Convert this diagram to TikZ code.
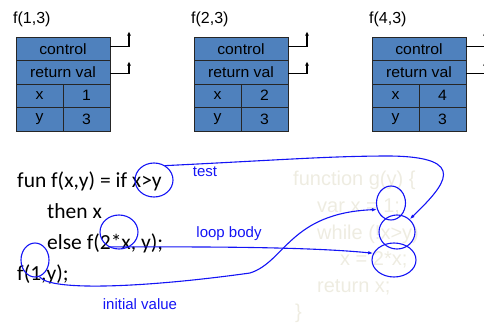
\documentclass[tikz,border=0pt]{standalone}
\usepackage{fontspec}
\setmainfont{Liberation Sans}
\newfontfamily\codefont{Carlito}
\newfontfamily\cellfont[FakeStretch=1.05]{Liberation Sans}
\usetikzlibrary{arrows.meta,shapes.geometric}
\definecolor{framefill}{RGB}{79,129,189}
\definecolor{penblue}{RGB}{20,20,245}
\definecolor{faint}{RGB}{238,236,225}

\tikzset{
  cell/.style={draw=black!85, line width=0.8pt, fill=framefill, minimum height=23.5pt,
    inner sep=0pt, outer sep=0pt, font=\cellfont\fontsize{15}{15}\selectfont, anchor=north west},
  wide/.style={cell, minimum width=94pt},
  half/.style={cell, minimum width=47pt},
  frametitle/.style={font=\fontsize{16}{16}\selectfont, anchor=base west, inner sep=0pt},
  link/.style={line width=1.3pt, -{Triangle[length=4pt,width=3.5pt]}},
  ring/.style={ellipse, draw=penblue, line width=1.1pt, inner sep=0pt},
  pen/.style={draw=penblue, line width=1.1pt, -{Latex[length=5pt,width=3.5pt]}},
  note/.style={text=penblue, font=\fontsize{15}{15}\selectfont, inner sep=0pt},
  code/.style={font=\codefont\fontsize{21.5}{25}\selectfont, anchor=base west, inner sep=0pt},
  ghost/.style={text=faint, font=\fontsize{20}{24}\selectfont, anchor=base west, inner sep=0pt},
}

% activation record: #1 name, #2 left edge, #3 title, #4 x value, #5 y value
\newcommand\actframe[5]{%
  \node[frametitle] (#1t) at (#2-3,24) {#3};
  \node[wide] (#1c) at (#2,37) {control};
  \node[wide] (#1r) at (#1c.south west) {return val};
  \node[half] (#1xk) at (#1r.south west) {x};
  \node[half] (#1xv) at (#1xk.north east) {#4};
  \node[half] (#1yk) at (#1xk.south west) {y};
  \node[half] (#1yv) at (#1yk.north east) {#5};
  \coordinate (#1cs) at ([yshift=2pt]#1c.east);
  \coordinate (#1ct) at ([shift={(19pt,17pt)}]#1c.east);
  \coordinate (#1rs) at ([yshift=-1.5pt]#1r.east);
  \coordinate (#1rt) at ([shift={(19pt,10.5pt)}]#1r.east);
  \draw[link] (#1cs) -| (#1ct);
  \draw[link] (#1rs) -| (#1rt);
}

\begin{document}
\begin{tikzpicture}[x=1pt,y=-1pt]
\useasboundingbox (0,0) rectangle (484,326);

% stack of activation records
\actframe{fa}{16}{f(1,3)}{1}{3}
\actframe{fb}{194}{f(2,3)}{2}{3}
\actframe{fc}{372}{f(4,3)}{4}{3}

% iterative version, faded
\node[ghost] (g1) at (293,185) {function g(y) \{};
\node[ghost] (g2) at (317,212) {var x = 1;};
\node[ghost] (g3) at (317,239) {while (!x>y)};
\node[ghost] (g4) at (340,265) {x = 2*x;};
\node[ghost] (g5) at (317,292) {return x;};
\node[ghost] (g6) at (295,318) {\}};

% recursive version
\node[code] (l1) at (17,187) {fun f(x,y) = if x>y};
\node[code] (l2) at (47,218) {then x};
\node[code] (l3) at (47,249) {else f(2*x, y);};
\node[code] (l4) at (17,280) {f(1,y);};

% circled pieces
\node[ring, minimum width=38pt, minimum height=34pt] (ctest) at (154,180) {};
\node[ring, minimum width=38pt, minimum height=34pt] (cstep) at (119,232) {};
\node[ring, minimum width=28pt, minimum height=34pt] (cinit) at (35,260) {};
\node[ring, minimum width=29pt, minimum height=34pt] (cvar) at (391,203) {};
\node[ring, minimum width=36pt, minimum height=34pt] (cwhile) at (397,232) {};
\node[ring, minimum width=44pt, minimum height=34pt] (cbody) at (394,260) {};

% correspondences
\draw[pen] (ctest.52) .. controls (280,160) and (330,156) .. (390,156)
  .. controls (470,157) and (445,185) .. (cwhile.45);
\draw[pen] (cstep.235) .. controls (180,247) and (300,246) .. (cbody.162);
\draw[pen] (cinit.285) .. controls (50,292) and (150,287) .. (250,273)
  .. controls (285,262) and (290,213) .. (cvar.205);

\node[note] (ntest) at (205,172) {test};
\node[note] (nbody) at (229,234) {loop body};
\node[note] (ninit) at (140,304) {initial value};
\end{tikzpicture}
\end{document}
